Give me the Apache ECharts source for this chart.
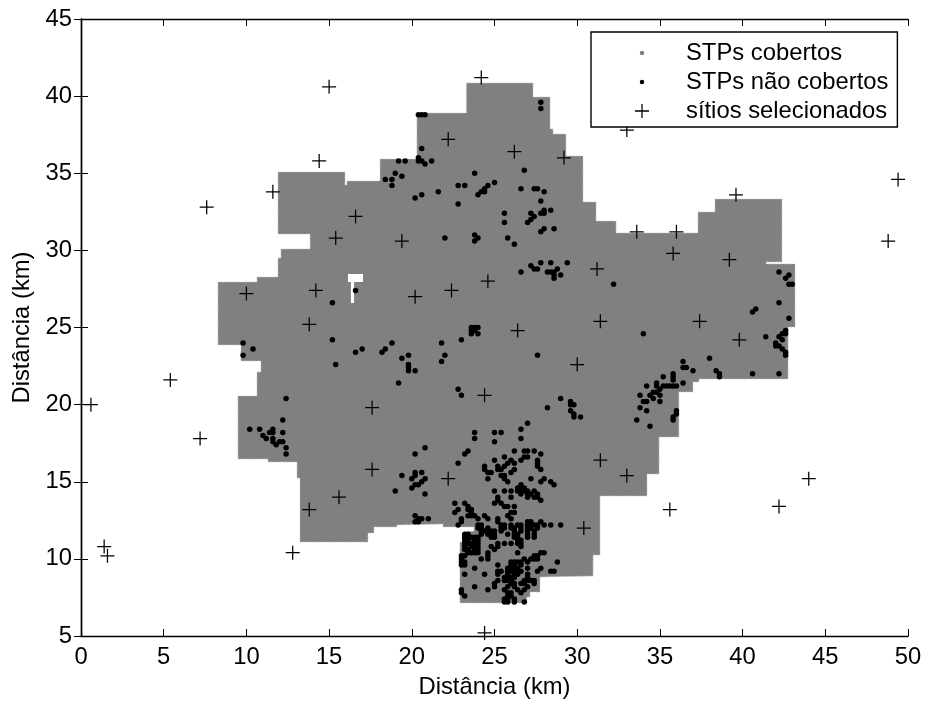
<!DOCTYPE html>
<html>
<head>
<meta charset="utf-8">
<style>html,body{margin:0;padding:0;background:#fff}#c{width:928px;height:702px}</style>
<script src="https://cdn.jsdelivr.net/npm/echarts@6/dist/echarts.min.js"></script>
</head>
<body>
<div id="c"></div>
<script>
var xTicks = [0, 50, 5];
var yTicks = [5, 45, 5];
var xName = 'Distância (km)';
var yName = 'Distância (km)';
var legendNames = ['STPs cobertos', 'STPs não cobertos', 'sítios selecionados'];

// boundary of the covered area (km)
var coverageOutline = [
[23.3,40.85],[27.33,40.85],[27.33,39.94],[28.36,39.94],[28.36,37.87],[28.54,37.87],[28.54,37.54],[29.32,37.54],
[29.32,36.12],[30.35,36.12],[30.35,33.14],[31.14,33.14],[31.14,31.9],[32.35,31.9],[32.35,31.13],[37.3,31.13],
[37.3,32.49],[38.33,32.49],[38.33,33.33],[42.38,33.33],[42.38,29.25],[41.42,29.25],[41.42,29.12],[43.17,29.12],
[43.17,25.03],[42.75,25.03],[42.75,21.66],[37.36,21.66],[37.36,21.47],[37.0,21.47],[37.0,20.82],[36.15,20.82],
[36.15,17.9],[34.95,17.9],[34.95,15.5],[34.22,15.5],[34.22,14.08],[31.38,14.08],[31.38,10.25],[30.96,10.25],
[30.96,8.89],[27.75,8.82],[27.75,7.85],[27.15,7.85],[27.15,7.53],[26.96,7.53],[26.96,7.14],[22.91,7.14],
[22.91,11.09],[23.1,11.09],[23.1,11.74],[23.76,11.81],[23.76,12.07],[21.89,12.07],[21.89,12.26],[19.1,12.2],
[19.1,12.07],[17.71,12.07],[17.71,11.68],[17.35,11.68],[17.35,11.09],[13.24,11.09],[13.24,15.24],[13.06,15.24],
[13.06,16.28],[11.31,16.28],[11.31,16.47],[9.49,16.47],[9.49,20.56],[10.64,20.56],[10.64,22.12],[10.88,22.12],
[10.88,22.83],[9.67,22.83],[9.67,23.87],[8.28,23.87],[8.28,27.95],[10.64,27.95],[10.64,28.27],[11.91,28.27],
[11.91,29.5],[12.09,29.5],[12.09,30.09],[13.85,30.09],[13.85,31.06],[11.91,31.06],[11.91,35.08],[15.96,35.08],
[15.96,34.24],[16.08,34.24],[16.08,34.5],[18.08,34.5],[18.08,35.92],[20.31,35.92],[20.31,38.9],[23.3,38.9]
];
// uncovered gap inside the area (km)
var coverageHole = [
[16.14,28.47],[17.05,28.47],[17.05,27.95],[16.51,27.95],[16.51,26.59],[16.32,26.59],[16.32,27.95],[16.14,27.95]
];

// selected sites (km)
var sites = [
[24.2,41.2],[15,40.6],[22.2,37.2],[33,37.8],[26.2,36.4],[29.2,36],[14.4,35.8],[11.6,33.8],[7.6,32.8],[16.6,32.2],
[39.6,33.6],[49.4,34.6],[33.6,31.2],[36,31.2],[15.4,30.8],[19.4,30.6],[48.8,30.6],[35.8,29.8],[39.2,29.4],[31.2,28.8],
[24.6,28],[14.2,27.4],[22.4,27.4],[10,27.2],[20.2,27],[13.8,25.2],[31.4,25.4],[37.4,25.4],[26.4,24.8],[39.8,24.2],
[30,22.6],[5.4,21.6],[24.4,20.6],[17.6,19.8],[0.6,20],[7.2,17.8],[31.4,16.4],[17.6,15.8],[22.2,15.2],[33,15.4],
[44,15.2],[15.6,14],[13.8,13.2],[35.6,13.2],[42.2,13.4],[30.4,12],[12.8,10.4],[1.4,10.8],[1.6,10.2],[24.4,5.2]
];

// uncovered STPs, north part (km)
var uncoveredNorth = [
[20.4,38.8],[20.6,38.8],[20.8,38.8],[20.6,36.6],[20.4,36],[20.4,35.8],[20.6,35.8],[20.8,35.6],[21.2,35.8],[19.6,35.8],[19.2,35.8],
[19,35],[19.4,34.8],[18.8,34.6],[18.4,34.6],[18.8,34.2],[23.8,35],[22.8,34.2],[23.2,34.2],[21.6,33.8],[20.6,33.6],[20.2,33.4],
[22.8,33],[24,33.6],[24.2,33.8],[24.4,33.8],[24.4,34],[24.6,34.2],[25,34.4],[22,30.8],[23.8,31],[24,30.8],[23.8,30.6],
[27.8,39.6],[27.8,39.2],[26.8,35.2],[26.6,34],[27.4,34],[27.6,34],[28,33.8],[27.8,33.2],[28.4,32.6],[28,32.6],[28,32.4],[27.8,32.4],
[27.2,32.4],[27.4,32.2],[27.2,32],[27,31.8],[25.6,32.4],[25.6,31.8],[28.6,31.4],[28,31.4],[27.8,31.2],[25.8,30.8],[26.2,30.4],
[27.8,29.2],[28.4,29.2],[29.4,29.2],[27.2,29],[27.4,28.8],[27.6,28.8],[28.8,28.8],[28.2,28.6],[28.4,28.6],[28.6,28.6],[26.6,28.6],
[28.6,28.4],[29,28.4],[28.6,28.2],[32.2,27.8],[16.6,27.4]
];
// uncovered STPs, centre and west (km)
var uncoveredCentre = [
[15.2,26.6],[15.2,24.2],[9.8,24],[10.4,23.6],[9.8,23.2],[15.4,22.6],[16.6,23.4],[17,23.6],[18.8,24],[18.4,23.6],[18.2,23.4],
[23.6,25],[23.8,25],[24,25],[23.6,24.8],[23.8,24.8],[23.6,24.6],[24,24.6],[23,24.2],[21.8,24],[22,23.2],[21.8,22.8],
[19.8,23.2],[19.4,23],[19.8,22.6],[19.8,22.4],[19.8,22.2],[20.2,22.2],[19.2,21.4],[27.6,23.2],[22.8,21],[23,20.6],[29,20.4],
[28.2,19.8],[29.6,20.2],[29.6,20],[29.8,20],[29.6,19.6],[29.8,19.4],[29.8,19.2],[30.2,19.2],[27,18.8],[26.6,18.4],[26.6,17.8],
[12.4,20.4],[12.2,19],[10.2,18.4],[10.8,18.4],[11.6,18.4],[11.4,18.2],[11.6,18.2],[12.2,18.2],[11,18],[11.2,17.8],[11.6,17.8],
[11.6,17.6],[12,17.6],[12.2,17.6],[11.8,17.4],[12.4,17.2],[12.4,16.8],[20.8,17.2],[20.2,16.8],[19.4,15.4],[20.2,15.6],[20.6,15.6],
[20.2,15.4],[20,15.2],[20.8,15.2],[20.6,15],[20.4,14.8],[20.2,14.8],[20,14.6],[19,14.4],[20.8,14.2],[20.2,12.8],[20.6,12.6],
[21,12.6],[20.4,12.6],[20.2,12.4],[20.4,12.4]
];
// uncovered STPs, east part (km)
var uncoveredEast = [
[34,24.6],[42.2,28.6],[42.8,28.4],[42.6,28.2],[42.8,27.8],[43,27.8],[42.2,26.6],[40.8,26.2],[40.6,26],[42.8,25.6],
[42.6,24.8],[42.6,24.6],[42.4,24.6],[42.2,24.4],[42.4,24.2],[41.4,24.4],[42,24],[42,23.8],[42.2,23.8],[42.4,23.6],[42.6,23.4],[42.6,23.2],
[38,23],[36.4,22.8],[36.4,22.4],[36.6,22.4],[37,22.2],[38.4,22.2],[38.6,22],[38.6,21.8],[40.6,22],[42.2,22],
[35.8,22],[35.8,21.8],[35.8,21.6],[35.2,21.8],[36.4,21.4],[34.8,21.4],[34.8,21.2],[35.2,21.2],[35.4,21.2],[35.6,21.2],[35.8,21.2],[36,21.2],
[34.2,21.2],[35,21],[34.6,20.8],[34.8,20.8],[33.8,20.6],[34.4,20.6],[35,20.6],[34.6,20.4],[34,20.2],[34.2,20.2],[35,20.2],
[33.8,19.8],[34.2,19.6],[36,19.6],[36,19.4],[35.8,19.2],[35.8,19],[33.6,19],[34.4,18.6]
];
// uncovered STPs, south cluster, upper rows (km)
var uncoveredSouthUpper = [
[23.8,18.2],[23.8,17.8],[25,18.2],[25.4,18.2],[25,17.6],[23.4,17],[23.2,16.8],[22.8,16.2],
[26.2,17],[26.8,17],[27,17],[27.4,17],[27.8,16.8],[27,16.6],[26.8,16.6],[26.6,16.4],[25.6,16.6],[25,16.4],[26,16.4],[26.2,16.2],[25.8,16.2],[25.6,16],
[27.6,16.4],[27.6,16.2],[27.6,16],[27.8,15.8],[24.4,16],[24.4,15.8],[24.6,15.6],[24.8,15.6],[25.2,16],[25.4,15.8],[25.2,15.8],
[26.2,15.8],[26,15.6],[25.4,15.4],[25.6,15.4],[25.8,15],[25.6,15.2],[24.6,15.2],[27.2,15.2],[28,15.2],[27.8,15],[28.4,15],[28.6,14.8],
[25,14.4],[25.6,14.4],[26,14.4],[26,14],[25.2,14],[25.2,13.8],[25,13.6],[26.6,14.8],[26.4,14.6],[26.6,14.6],[26.8,14.6],
[26.4,14.4],[26.6,14.4],[26.8,14.4],[27,14.4],[27.4,14.4],[26.6,14.2],[27,14.2],[27.2,14.2],[27.6,14.2],[27,14],[27.4,14],[27.6,14],[27.8,13.8],
[25.4,13.6],[25.6,13.4],[25.8,13.4],[26.2,13.4],[22.6,13.6],[22.8,13.2],[22.6,13],[23.2,13.6],[23.4,13.4],[23.4,13.2],[23.6,13],[23.8,12.8],[24,12.6],
[23.6,13.2],[23.6,12.8],[23.4,12.8],[24.4,12.8],[24.6,12.6],[26.2,13],[26,13],[25.8,12.8],[26,12.6],[23,12.6],[23,12.4],[22.8,12.2],[25.2,12.6],[25.2,12.4]
];
// uncovered STPs, south cluster, middle rows (km)
var uncoveredSouthMiddle = [
[24,12.2],[24.2,12.2],[25.4,12.2],[25.6,12.2],[26,12.2],[26.4,12.2],[26.6,12.2],[27,12.2],[27.2,12.2],[27.4,12.2],[27.6,12.2],[28,12.2],[28.4,12.2],[29,12.2],
[27,12.4],[27.2,12.4],[27.8,12.4],[24,12],[24.2,12],[24.6,12],[25.4,12],[25.6,12],[26,12],[26.2,12],[26.6,12],[27,12],[27.2,12],[27.6,12],
[24.2,11.8],[24.4,11.8],[24.6,11.8],[24.8,11.8],[25,11.8],[25.4,11.8],[26.2,11.8],[26.6,11.8],[27,11.8],[27.4,11.8],
[23.2,11.6],[23.4,11.6],[24.2,11.6],[24.6,11.6],[24.8,11.6],[25,11.6],[25.8,11.6],[26.2,11.6],[26.4,11.6],[27,11.6],[27.4,11.6],
[23.2,11.4],[23.4,11.4],[23.6,11.4],[23.8,11.4],[24,11.4],[24.8,11.4],[25,11.4],[26.2,11.4],[26.4,11.4],[27,11.4],[27.4,11.4],
[23.2,11.2],[23.4,11.2],[23.8,11.2],[24,11.2],[26.4,11.2],[26.6,11.2],
[23.2,11],[23.4,11],[23.6,11],[23.8,11],[24,11],[25.2,11],[25.6,11],[26,11],[26.4,11],[26.6,11],
[23.2,10.8],[23.6,10.8],[23.8,10.8],[24,10.8],[24.8,10.8],[25.2,10.8],[26.6,10.8],
[23.2,10.6],[23.4,10.6],[23.8,10.6],[24,10.6],[25,10.6],
[23.4,10.4],[23.6,10.4],[23.8,10.4],[24,10.4],[24.6,10.4],[26.4,10.4],[28,10.4],[27.8,10.4]
];
// uncovered STPs, south cluster, lower rows (km)
var uncoveredSouthLower = [
[23,10.2],[23.2,10.2],[24.6,10.2],[27.4,10.2],[27.6,10.2],[23,10],[24.2,10],[24.6,10],[26.8,10],[27.2,10],[27.4,10],[27.6,10],
[23.2,9.8],[23,9.8],[26,9.8],[26.2,9.8],[26.4,9.8],[26.6,9.8],[27,9.8],[28.8,9.8],[23,9.6],[23.2,9.6],[25.2,9.6],[26,9.6],[26.2,9.6],[26.6,9.6],
[23.8,9.4],[25.8,9.4],[26,9.4],[26.2,9.4],[26.4,9.4],[27,9.4],[27.8,9.4],[25.4,9.2],[25.2,9.2],[25.8,9.2],[26,9.2],[26.2,9.2],[26.4,9.2],[26.6,9.2],[27.6,9.2],[28.4,9.2],[28.6,9.2],
[23.2,9],[24.4,9],[25.2,9],[25.8,9],[26.2,9],[26.4,9],[27,9],[25.6,8.8],[25.8,8.8],[26,8.8],[26.2,8.8],[27,8.8],
[25.2,8.6],[25.6,8.6],[25.8,8.6],[26,8.6],[26.8,8.6],[27,8.6],[27.2,8.6],[27.4,8.6],[25,8.4],[26,8.4],[26.2,8.4],[26.6,8.4],[26.8,8.4],[27.4,8.4],
[23.8,8.2],[25,8.2],[25.8,8.2],[26.2,8.2],[27,8.2],[23,8],[24.6,8],[25.6,8],[26.4,8],[26.8,8],[23,7.8],[25.8,7.8],[26,7.8],[26.6,7.8],
[23.2,7.6],[25.8,7.6],[26,7.6],[25.6,7.4],[25.8,7.4],[26.2,7.4],[25.6,7.2],[25.8,7.2],[26.2,7.2],[26.8,7.2]
];

var uncovered = [].concat(uncoveredNorth, uncoveredCentre, uncoveredEast, uncoveredSouthUpper, uncoveredSouthMiddle, uncoveredSouthLower);
var regions = [coverageOutline, coverageHole];

var FONT = '"Liberation Sans", Arial, Helvetica, sans-serif';
var FS = 23.8;
var GRAY = '#808080';
var PLUS = 'path://M45.5 0H54.5V45.5H100V54.5H54.5V100H45.5V54.5H0V45.5H45.5Z';
var DOT_ICON = 'path://M0 0L0 0ZM100 100L100 100ZM50 34A16 16 0 1 1 49.9 34Z';

function hAxis(pos, show) {
  return {
    type: 'value', position: pos, min: xTicks[0], max: xTicks[1], interval: xTicks[2],
    name: show ? xName : '', nameLocation: 'middle', nameGap: 39,
    nameTextStyle: { fontFamily: FONT, fontSize: FS, color: '#000' },
    axisLine: { show: true, lineStyle: { color: '#000', width: 1.4 } },
    axisTick: { show: true, inside: true, length: 7, lineStyle: { color: '#000', width: 1 } },
    axisLabel: { show: show, fontFamily: FONT, fontSize: FS, color: '#000', margin: 9, hideOverlap: false, showMinLabel: true, showMaxLabel: true },
    splitLine: { show: false }
  };
}
function vAxis(pos, show) {
  return {
    type: 'value', position: pos, min: yTicks[0], max: yTicks[1], interval: yTicks[2],
    name: show ? yName : '', nameLocation: 'middle', nameGap: 47,
    nameTextStyle: { fontFamily: FONT, fontSize: FS, color: '#000' },
    axisLine: { show: true, lineStyle: { color: '#000', width: 1.4 } },
    axisTick: { show: true, inside: true, length: 7, lineStyle: { color: '#000', width: 1 } },
    axisLabel: { show: show, fontFamily: FONT, fontSize: FS, color: '#000', margin: 9, hideOverlap: false, showMinLabel: true, showMaxLabel: true },
    splitLine: { show: false }
  };
}

var chart = echarts.init(document.getElementById('c'), null, { renderer: 'canvas' });
chart.setOption({
  animation: false,
  backgroundColor: '#fff',
  grid: { left: 81, top: 19, width: 827, height: 617, containLabel: false, outerBoundsMode: 'none' },
  xAxis: [hAxis('bottom', true), hAxis('top', false)],
  yAxis: [vAxis('left', true), vAxis('right', false)],
  legend: {
    show: true, orient: 'vertical', left: 591, top: 32,
    padding: [8, 9, 3, 44], itemWidth: 78, itemHeight: 14, itemGap: 3,
    backgroundColor: '#fff', borderColor: '#000', borderWidth: 1.4, z: 20,
    selectedMode: false, itemStyle: { borderWidth: 0 },
    textStyle: { fontFamily: FONT, fontSize: FS, color: '#000', lineHeight: 26 },
    data: [
      { name: legendNames[0], icon: DOT_ICON },
      { name: legendNames[1], icon: DOT_ICON },
      { name: legendNames[2], icon: PLUS }
    ]
  },
  series: [
    {
      name: legendNames[0], type: 'custom', coordinateSystem: 'cartesian2d', xAxisIndex: 0, yAxisIndex: 0,
      silent: true, z: 1, clip: false, itemStyle: { color: GRAY },
      data: regions.map(function (r) { return r[0]; }),
      renderItem: function (params, api) {
        var i = params.dataIndex;
        var pts = regions[i].map(function (p) { return api.coord(p); });
        return {
          type: 'polygon', shape: { points: pts },
          style: i === 0
            ? { fill: GRAY, stroke: '#c4c4c4', lineWidth: 1, lineDash: [1.5, 1.7] }
            : { fill: '#fff', stroke: null }
        };
      }
    },
    {
      name: legendNames[1], type: 'scatter', xAxisIndex: 0, yAxisIndex: 0, silent: true, z: 2, clip: false,
      symbol: 'circle', symbolSize: 5.5, itemStyle: { color: '#000', opacity: 1 }, data: uncovered
    },
    {
      name: legendNames[2], type: 'scatter', xAxisIndex: 0, yAxisIndex: 0, silent: true, z: 3, clip: false,
      symbol: PLUS, symbolSize: 14, itemStyle: { color: '#000', opacity: 1 }, data: sites
    }
  ]
});
</script>
</body>
</html>
